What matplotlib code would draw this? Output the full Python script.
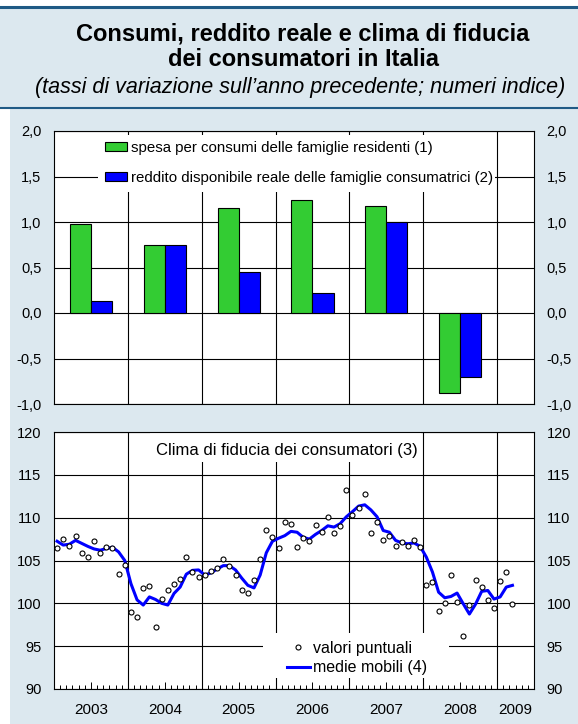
import numpy as np
import matplotlib
matplotlib.use("Agg")
import matplotlib.pyplot as plt
from matplotlib.patches import Rectangle, Patch
from matplotlib.lines import Line2D

# ---------------- data ----------------
years = ['2003', '2004', '2005', '2006', '2007', '2008']
spesa = [0.98, 0.75, 1.15, 1.24, 1.18, -0.88]
reddito = [0.13, 0.75, 0.45, 0.22, 1.00, -0.70]

fiducia_puntuali = [
    106.5, 107.5, 106.7, 107.9, 105.9, 105.4, 107.3, 105.9, 106.6, 106.5, 103.4, 104.5,
    98.95, 98.35, 101.8, 102.05, 97.2, 100.5, 101.55, 102.25, 102.8, 105.4, 103.6, 103.05,
    103.25, 103.8, 104.1, 105.2, 104.3, 103.25, 101.5, 101.2, 102.75, 105.2, 108.55, 107.8,
    106.45, 109.5, 109.25, 106.55, 107.65, 107.25, 109.15, 108.35, 110.1, 108.2, 109.05, 113.25,
    110.35, 111.15, 112.8, 108.25, 109.45, 107.45, 107.9, 106.75, 107.15, 106.75, 107.45, 106.6,
    102.15, 102.5, 99.1, 100.05, 103.25, 100.15, 96.2, 99.8, 102.7, 101.85, 100.35, 99.4,
    102.6, 103.65, 99.9]
fiducia_medie = [
    107.25, 106.8, 106.9, 107.35, 107.0, 106.65, 106.35, 106.2, 106.4, 106.55, 106.0, 105.0,
    102.3, 100.4, 99.8, 100.75, 100.45, 100.0, 99.8, 101.15, 101.9, 103.4, 103.85, 103.9,
    103.3, 103.55, 104.0, 104.4, 104.4, 103.9, 102.95, 102.1, 101.8, 103.3, 105.9, 107.25,
    107.6, 107.9, 108.4, 108.3, 107.7, 107.5, 108.05, 108.5, 109.05, 108.9, 109.3, 110.1,
    110.7, 111.35, 111.5, 110.9, 110.1, 108.5, 108.3, 107.35, 107.05, 106.95, 107.05, 106.65,
    105.4, 103.65, 101.3, 100.65, 100.8, 101.2, 99.95, 98.75, 99.9, 101.4, 101.5, 100.5,
    100.75, 101.9, 102.1]
anni_asse = ['2003', '2004', '2005', '2006', '2007', '2008', '2009']

labels_bar = ['spesa per consumi delle famiglie residenti (1)',
              'reddito disponibile reale delle famiglie consumatrici (2)']
labels_line = ['valori puntuali', 'medie mobili (4)']
title1 = 'Consumi, reddito reale e clima di fiducia'
title2 = 'dei consumatori in Italia'
subtitle = '(tassi di variazione sull\u2019anno precedente; numeri indice)'
title_clima = 'Clima di fiducia dei consumatori (3)'

# ---------------- style ----------------
plt.rcParams['font.family'] = ['Liberation Sans', 'DejaVu Sans']
BG = '#dce8ef'
DARK = '#1f5a85'
GREEN = '#33cc33'
BLUE = '#0000ff'
W, H = 578, 724

fig = plt.figure(figsize=(W / 100, H / 100), dpi=100)
fig.patch.set_facecolor('white')

def fx(px):
    return px / W

def fy(py):
    return 1 - py / H

# background bands
fig.add_artist(Rectangle((0, fy(108)), 1, fy(8) - fy(108), transform=fig.transFigure,
                         facecolor=BG, edgecolor='none', zorder=0))
fig.add_artist(Rectangle((fx(10), 0), 1 - fx(10), fy(108), transform=fig.transFigure,
                         facecolor=BG, edgecolor='none', zorder=0))
fig.add_artist(Line2D([0, 1], [fy(6.5), fy(6.5)], transform=fig.transFigure,
                      color=DARK, lw=2.2, zorder=1))
fig.add_artist(Line2D([0, 1], [fy(107.5), fy(107.5)], transform=fig.transFigure,
                      color=DARK, lw=1.5, zorder=1))

fig.text(fx(303), fy(34), title1, ha='center', va='center', fontsize=17, fontweight='bold')
fig.text(fx(303), fy(60), title2, ha='center', va='center', fontsize=17, fontweight='bold')
fig.text(fx(300), fy(88), subtitle, ha='center', va='center', fontsize=15.5, style='italic')

# ---------------- top panel ----------------
ax1 = fig.add_axes([fx(54), fy(404), 480 / W, 273 / H])
ax1.set_facecolor('white')
x = np.arange(len(years)) + 0.5
bw = 0.285
ax1.bar(x - bw / 2, spesa, bw, color=GREEN, edgecolor='black', linewidth=0.8, zorder=3)
ax1.bar(x + bw / 2, reddito, bw, color=BLUE, edgecolor='black', linewidth=0.8, zorder=3)
ax1.set_xlim(0, 6.5)
ax1.set_ylim(-1, 2)
yt1 = np.arange(-1.0, 2.01, 0.5)
ax1.set_yticks(yt1)
ax1.set_yticklabels([('%.1f' % v).replace('.', ',') for v in yt1])
ax1.set_xticks([])
ax1.set_axisbelow(True)
ax1.yaxis.grid(True, color='black', lw=0.8)
for b in range(1, len(years) + 1):
    ax1.axvline(b, color='black', lw=0.8, zorder=0.5)
ax1.tick_params(axis='y', length=0, labelleft=True, labelright=True, pad=9, labelsize=10.5)
for s in ax1.spines.values():
    s.set_linewidth(0.8)
ax1.add_patch(Rectangle((0.0917, 0.7766), 0.9187 - 0.0917, 0.9853 - 0.7766,
                        transform=ax1.transAxes, facecolor='white', edgecolor='none', zorder=1))
h1 = [Patch(facecolor=GREEN, edgecolor='black', linewidth=0.8),
      Patch(facecolor=BLUE, edgecolor='black', linewidth=0.8)]
ax1.legend(h1, labels_bar, loc='upper left', bbox_to_anchor=(0.106, 0.964), frameon=False,
           fontsize=10.8, handlelength=1.47, handleheight=0.6, handletextpad=0.27,
           labelspacing=1.05, borderpad=0, borderaxespad=0)

# ---------------- bottom panel ----------------
ax2 = fig.add_axes([fx(54), fy(689), 480 / W, 257 / H])
ax2.set_facecolor('white')
n = len(fiducia_puntuali)
mesi = np.arange(n) + 0.5
ax2.plot(mesi, fiducia_medie, color=BLUE, lw=2.2, zorder=3, solid_joinstyle='round')
ax2.plot(mesi, fiducia_puntuali, ls='', marker='o', ms=3.6, mfc='white', mec='black',
         mew=0.8, zorder=4)
ax2.set_xlim(0, 78)
ax2.set_ylim(90, 120)
ax2.set_yticks(np.arange(90, 121, 5))
ax2.set_axisbelow(True)
ax2.yaxis.grid(True, color='black', lw=0.8)
for b in range(12, 78, 12):
    ax2.axvline(b, color='black', lw=0.8, zorder=0.5)
centers = [6, 18, 30, 42, 54, 66, 75]
ax2.set_xticks(centers)
ax2.set_xticklabels(anni_asse)
ax2.set_xticks(np.arange(1, 78), minor=True)
ax2.tick_params(axis='x', which='major', direction='in', length=5, width=0.7, pad=10,
                labelsize=11)
ax2.tick_params(axis='x', which='minor', direction='in', length=2.8, width=0.7)
ax2.xaxis.get_major_ticks()[-1].tick1line.set_markersize(2.8)
ax2.tick_params(axis='y', length=0, labelleft=True, labelright=True, pad=9, labelsize=10.5)
for s in ax2.spines.values():
    s.set_linewidth(0.8)

ax2.add_patch(Rectangle((0.2, 0.8833), 0.7646 - 0.2, 1 - 0.8833, transform=ax2.transAxes,
                        facecolor='white', edgecolor='none', zorder=1))
ax2.text(0.4854, (689 - 450) / 257, title_clima, transform=ax2.transAxes, ha='center',
         va='center', fontsize=12, zorder=5)
ax2.add_patch(Rectangle((0.4354, 0.0428), 0.8229 - 0.4354, 0.2179 - 0.0428,
                        transform=ax2.transAxes, facecolor='white', edgecolor='none', zorder=1))
h2 = [Line2D([], [], ls='', marker='o', ms=3.6, mfc='white', mec='black', mew=0.8),
      Line2D([], [], color=BLUE, lw=2.2)]
ax2.legend(h2, labels_line, loc='upper left', bbox_to_anchor=(0.4854, 0.188), frameon=False,
           fontsize=11.5, handlelength=1.44, handletextpad=0.19, labelspacing=0.3,
           borderpad=0, borderaxespad=0)

fig.savefig('out.png', dpi=100)
